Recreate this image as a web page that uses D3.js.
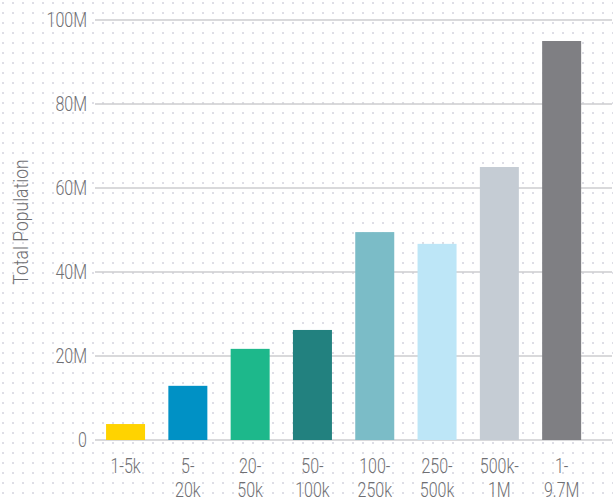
<!DOCTYPE html>
<html>
<head>
<meta charset="utf-8">
<script src="https://cdn.jsdelivr.net/npm/d3@7"></script>
<style>
  html, body { margin: 0; padding: 0; background: #fff; }
  svg { display: block; }
  .lbl { font-family: "Roboto", sans-serif; font-weight: 300; fill: #6f6f73; }
</style>
</head>
<body>
<svg id="chart" width="613" height="500"></svg>
<script>
// City-size classes and the total population living in each class
const categories = ["1-5k", "5-20k", "20-50k", "50-100k", "100-250k", "250-500k", "500k-1M", "1-9.7M"];
const labelLines = [["1-5k"], ["5-", "20k"], ["20-", "50k"], ["50-", "100k"], ["100-", "250k"], ["250-", "500k"], ["500k-", "1M"], ["1-", "9.7M"]];
const population = [3.8e6, 12.9e6, 21.7e6, 26.2e6, 49.5e6, 46.7e6, 65.0e6, 95.0e6];
const barColors = ["#ffd300", "#0091c5", "#1db88b", "#22817f", "#7bbcc7", "#bde6f7", "#c5ccd4", "#7f7f83"];
const yTicks = [0, 20e6, 40e6, 60e6, 80e6, 100e6];
const yTickLabels = ["0", "20M", "40M", "60M", "80M", "100M"];

const svg = d3.select("#chart");
const W = 613, H = 500;
const squeeze = 0.8; // narrow the label glyphs horizontally

// dotted paper background
const defs = svg.append("defs");
const pat = defs.append("pattern")
  .attr("id", "dots").attr("patternUnits", "userSpaceOnUse")
  .attr("width", 10).attr("height", 10);
pat.append("rect").attr("x", 2).attr("y", 2).attr("width", 2).attr("height", 2).attr("fill", "#dedee6");
svg.append("rect").attr("width", W).attr("height", H).attr("fill", "#fff");
svg.append("rect").attr("width", W).attr("height", H).attr("fill", "url(#dots)");

const x = d3.scaleBand().domain(categories).range([94.4, 592.8])
  .paddingInner(0.374).paddingOuter(0.187);
const y = d3.scaleLinear().domain([0, 100e6]).range([440, 20]);

// horizontal gridlines
svg.append("g").selectAll("line").data(yTicks).join("line")
  .attr("x1", 95).attr("x2", 612)
  .attr("y1", d => y(d)).attr("y2", d => y(d))
  .attr("stroke", "#cdcdcf").attr("stroke-width", 1.5);

// y tick labels
svg.append("g").selectAll("text").data(yTicks).join("text")
  .attr("class", "lbl")
  .attr("transform", d => `translate(87,${y(d)}) scale(${squeeze},1)`)
  .attr("dy", "0.36em")
  .attr("text-anchor", "end").attr("font-size", 20)
  .text((d, i) => yTickLabels[i]);

// bars
svg.append("g").selectAll("rect").data(population).join("rect")
  .attr("x", (d, i) => x(categories[i]))
  .attr("width", x.bandwidth())
  .attr("y", d => y(d))
  .attr("height", d => y(0) - y(d))
  .attr("fill", (d, i) => barColors[i]);

// x category labels (wrapped onto two lines)
const xl = svg.append("g").selectAll("text").data(categories).join("text")
  .attr("class", "lbl").attr("font-size", 20).attr("text-anchor", "middle")
  .attr("transform", d => `translate(${x(d) + x.bandwidth() / 2},473) scale(${squeeze},1)`);
xl.selectAll("tspan").data((d, i) => labelLines[i]).join("tspan")
  .attr("x", 0).attr("y", (d, j) => j * 24).text(d => d);

// y axis title
svg.append("text").attr("class", "lbl")
  .attr("transform", "translate(28,222) rotate(-90) scale(0.88,1)")
  .attr("text-anchor", "middle").attr("font-size", 20)
  .text("Total Population");
</script>
</body>
</html>
